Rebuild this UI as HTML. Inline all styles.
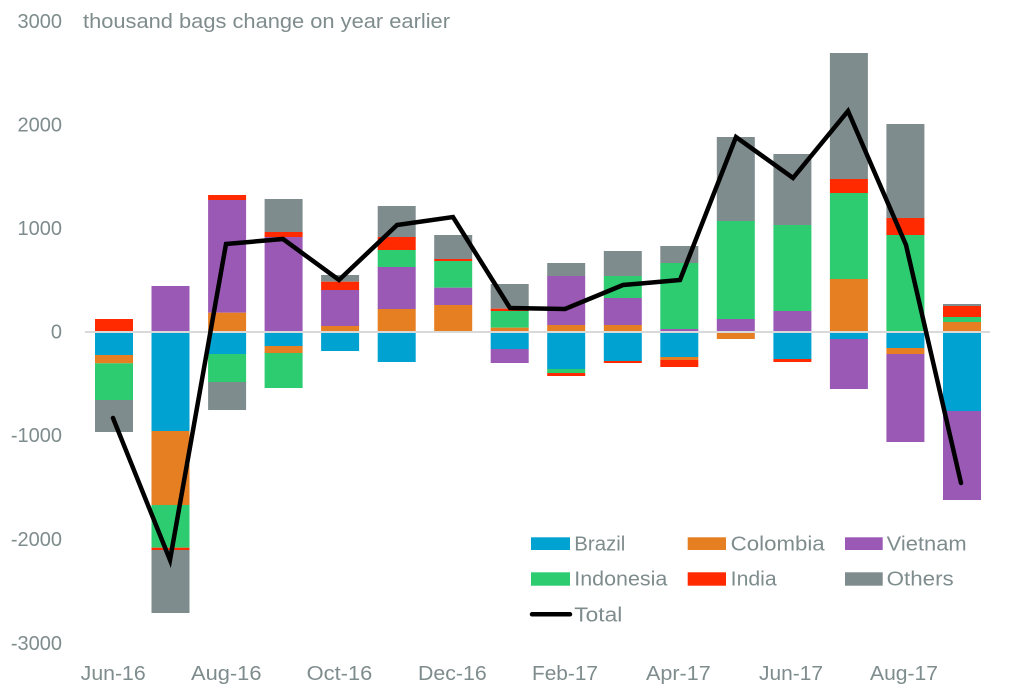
<!DOCTYPE html>
<html>
<head>
<meta charset="utf-8">
<style>
html,body{margin:0;padding:0;background:#fff;}
svg{display:block;}
text{font-family:"Liberation Sans",sans-serif;fill:#7f8c8d;font-size:20px;}
</style>
</head>
<body>
<svg width="1009" height="693" viewBox="0 0 1009 693" xmlns="http://www.w3.org/2000/svg">
<rect width="1009" height="693" fill="#fff"/>
<!-- y labels -->
<g text-anchor="end">
<text x="62" y="28">3000</text>
<text x="62" y="131.5">2000</text>
<text x="62" y="235">1000</text>
<text x="62" y="338.7">0</text>
<text x="62" y="442">-1000</text>
<text x="62" y="546">-2000</text>
<text x="62" y="650">-3000</text>
</g>
<text x="83" y="28" textLength="367" lengthAdjust="spacingAndGlyphs">thousand bags change on year earlier</text>

<g id="bars">
<rect x="95" y="319" width="38" height="12" fill="#ff2a00"/>
<rect x="95" y="333" width="38" height="22" fill="#00a2d1"/>
<rect x="95" y="355" width="38" height="8.3" fill="#e67e22"/>
<rect x="95" y="363.3" width="38" height="36.7" fill="#2ecc71"/>
<rect x="95" y="400" width="38" height="32" fill="#7f8c8d"/>

<rect x="151.5" y="286" width="38" height="45" fill="#9b59b6"/>
<rect x="151.5" y="333" width="38" height="98" fill="#00a2d1"/>
<rect x="151.5" y="431" width="38" height="74" fill="#e67e22"/>
<rect x="151.5" y="505" width="38" height="42.7" fill="#2ecc71"/>
<rect x="151.5" y="547.7" width="38" height="2.3" fill="#ff2a00"/>
<rect x="151.5" y="550" width="38" height="63" fill="#7f8c8d"/>

<rect x="208.1" y="195" width="38" height="5" fill="#ff2a00"/>
<rect x="208.1" y="200" width="38" height="112.7" fill="#9b59b6"/>
<rect x="208.1" y="312.7" width="38" height="18.3" fill="#e67e22"/>
<rect x="208.1" y="333" width="38" height="21" fill="#00a2d1"/>
<rect x="208.1" y="354" width="38" height="28" fill="#2ecc71"/>
<rect x="208.1" y="382" width="38" height="28" fill="#7f8c8d"/>

<rect x="264.6" y="199" width="38" height="33" fill="#7f8c8d"/>
<rect x="264.6" y="232" width="38" height="5" fill="#ff2a00"/>
<rect x="264.6" y="237" width="38" height="94" fill="#9b59b6"/>
<rect x="264.6" y="333" width="38" height="13" fill="#00a2d1"/>
<rect x="264.6" y="346" width="38" height="7" fill="#e67e22"/>
<rect x="264.6" y="353" width="38" height="35" fill="#2ecc71"/>

<rect x="321.1" y="275" width="38" height="6.7" fill="#7f8c8d"/>
<rect x="321.1" y="281.7" width="38" height="8.3" fill="#ff2a00"/>
<rect x="321.1" y="290" width="38" height="36" fill="#9b59b6"/>
<rect x="321.1" y="326" width="38" height="5" fill="#e67e22"/>
<rect x="321.1" y="333" width="38" height="18" fill="#00a2d1"/>

<rect x="377.7" y="206" width="38" height="31" fill="#7f8c8d"/>
<rect x="377.7" y="237" width="38" height="13" fill="#ff2a00"/>
<rect x="377.7" y="250" width="38" height="17" fill="#2ecc71"/>
<rect x="377.7" y="267" width="38" height="42" fill="#9b59b6"/>
<rect x="377.7" y="309" width="38" height="22" fill="#e67e22"/>
<rect x="377.7" y="333" width="38" height="29" fill="#00a2d1"/>

<rect x="434.2" y="235" width="38" height="24" fill="#7f8c8d"/>
<rect x="434.2" y="259" width="38" height="2" fill="#ff2a00"/>
<rect x="434.2" y="261" width="38" height="26.7" fill="#2ecc71"/>
<rect x="434.2" y="287.7" width="38" height="17.3" fill="#9b59b6"/>
<rect x="434.2" y="305" width="38" height="26" fill="#e67e22"/>

<rect x="490.7" y="284" width="38" height="24.7" fill="#7f8c8d"/>
<rect x="490.7" y="308.7" width="38" height="2.3" fill="#ff2a00"/>
<rect x="490.7" y="311" width="38" height="16.7" fill="#2ecc71"/>
<rect x="490.7" y="327.7" width="38" height="3.3" fill="#e67e22"/>
<rect x="490.7" y="333" width="38" height="16" fill="#00a2d1"/>
<rect x="490.7" y="349" width="38" height="14" fill="#9b59b6"/>

<rect x="547.2" y="263" width="38" height="13" fill="#7f8c8d"/>
<rect x="547.2" y="276" width="38" height="49" fill="#9b59b6"/>
<rect x="547.2" y="325" width="38" height="6" fill="#e67e22"/>
<rect x="547.2" y="333" width="38" height="36" fill="#00a2d1"/>
<rect x="547.2" y="369" width="38" height="4" fill="#2ecc71"/>
<rect x="547.2" y="373" width="38" height="3" fill="#ff2a00"/>

<rect x="603.8" y="251" width="38" height="25" fill="#7f8c8d"/>
<rect x="603.8" y="276" width="38" height="22" fill="#2ecc71"/>
<rect x="603.8" y="298" width="38" height="27" fill="#9b59b6"/>
<rect x="603.8" y="325" width="38" height="6" fill="#e67e22"/>
<rect x="603.8" y="333" width="38" height="28" fill="#00a2d1"/>
<rect x="603.8" y="361" width="38" height="2" fill="#ff2a00"/>

<rect x="660.3" y="246" width="38" height="17" fill="#7f8c8d"/>
<rect x="660.3" y="263" width="38" height="66" fill="#2ecc71"/>
<rect x="660.3" y="329" width="38" height="2" fill="#9b59b6"/>
<rect x="660.3" y="333" width="38" height="24" fill="#00a2d1"/>
<rect x="660.3" y="357" width="38" height="3" fill="#e67e22"/>
<rect x="660.3" y="360" width="38" height="7" fill="#ff2a00"/>

<rect x="716.8" y="137" width="38" height="84" fill="#7f8c8d"/>
<rect x="716.8" y="221" width="38" height="98" fill="#2ecc71"/>
<rect x="716.8" y="319" width="38" height="12" fill="#9b59b6"/>
<rect x="716.8" y="333" width="38" height="6" fill="#e67e22"/>

<rect x="773.4" y="154" width="38" height="71" fill="#7f8c8d"/>
<rect x="773.4" y="225" width="38" height="86" fill="#2ecc71"/>
<rect x="773.4" y="311" width="38" height="20" fill="#9b59b6"/>
<rect x="773.4" y="333" width="38" height="26" fill="#00a2d1"/>
<rect x="773.4" y="359" width="38" height="3" fill="#ff2a00"/>

<rect x="829.9" y="53" width="38" height="126" fill="#7f8c8d"/>
<rect x="829.9" y="179" width="38" height="14" fill="#ff2a00"/>
<rect x="829.9" y="193" width="38" height="86" fill="#2ecc71"/>
<rect x="829.9" y="279" width="38" height="52" fill="#e67e22"/>
<rect x="829.9" y="333" width="38" height="6" fill="#00a2d1"/>
<rect x="829.9" y="339" width="38" height="50" fill="#9b59b6"/>

<rect x="886.4" y="124" width="38" height="94" fill="#7f8c8d"/>
<rect x="886.4" y="218" width="38" height="17" fill="#ff2a00"/>
<rect x="886.4" y="235" width="38" height="96" fill="#2ecc71"/>
<rect x="886.4" y="333" width="38" height="15" fill="#00a2d1"/>
<rect x="886.4" y="348" width="38" height="6" fill="#e67e22"/>
<rect x="886.4" y="354" width="38" height="88" fill="#9b59b6"/>

<rect x="943" y="304" width="38" height="2" fill="#7f8c8d"/>
<rect x="943" y="306" width="38" height="11" fill="#ff2a00"/>
<rect x="943" y="317" width="38" height="5" fill="#2ecc71"/>
<rect x="943" y="322" width="38" height="9" fill="#e67e22"/>
<rect x="943" y="333" width="38" height="78" fill="#00a2d1"/>
<rect x="943" y="411" width="38" height="89" fill="#9b59b6"/>
</g>

<!-- zero line -->
<rect x="85" y="331" width="905" height="2" fill="#d9d9d9"/>

<!-- total line -->
<polyline fill="none" stroke="#000" stroke-width="4.5" stroke-linecap="round" stroke-linejoin="miter"
points="113,418 170,560 226,244 283,239 339,280 397,225 453,217 510,308 565,309 623,285 680,280 736,137 793,178 848,111 906,245 961,483"/>

<!-- x labels -->
<text x="80.7" y="680" textLength="65" lengthAdjust="spacingAndGlyphs">Jun-16</text>
<text x="191" y="680" textLength="70.5" lengthAdjust="spacingAndGlyphs">Aug-16</text>
<text x="306.7" y="680" textLength="65.6" lengthAdjust="spacingAndGlyphs">Oct-16</text>
<text x="418" y="680" textLength="68.7" lengthAdjust="spacingAndGlyphs">Dec-16</text>
<text x="532" y="680" textLength="66" lengthAdjust="spacingAndGlyphs">Feb-17</text>
<text x="646" y="680" textLength="64.7" lengthAdjust="spacingAndGlyphs">Apr-17</text>
<text x="759" y="680" textLength="64" lengthAdjust="spacingAndGlyphs">Jun-17</text>
<text x="870" y="680" textLength="68" lengthAdjust="spacingAndGlyphs">Aug-17</text>

<!-- legend -->
<rect x="531" y="537.3" width="39" height="12.7" fill="#00a2d1"/>
<text x="574.3" y="550.7" textLength="51" lengthAdjust="spacingAndGlyphs">Brazil</text>
<rect x="687.7" y="537.3" width="38.3" height="12.7" fill="#e67e22"/>
<text x="730.7" y="550.7" textLength="94" lengthAdjust="spacingAndGlyphs">Colombia</text>
<rect x="845" y="537.3" width="37.7" height="12.7" fill="#9b59b6"/>
<text x="886.7" y="550.7" textLength="80" lengthAdjust="spacingAndGlyphs">Vietnam</text>

<rect x="531" y="572.3" width="39" height="13.4" fill="#2ecc71"/>
<text x="574.3" y="585.7" textLength="93" lengthAdjust="spacingAndGlyphs">Indonesia</text>
<rect x="687.7" y="572.3" width="38.3" height="13.4" fill="#ff2a00"/>
<text x="730.7" y="585.7" textLength="46" lengthAdjust="spacingAndGlyphs">India</text>
<rect x="845" y="572.3" width="37.7" height="13.4" fill="#7f8c8d"/>
<text x="886.7" y="585.7" textLength="67" lengthAdjust="spacingAndGlyphs">Others</text>

<line x1="532" y1="614.3" x2="570" y2="614.3" stroke="#000" stroke-width="4.5" stroke-linecap="round"/>
<text x="574.3" y="621.7" textLength="48" lengthAdjust="spacingAndGlyphs">Total</text>
</svg>
</body>
</html>
